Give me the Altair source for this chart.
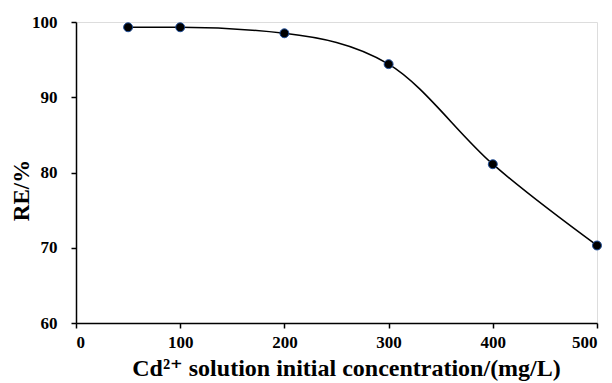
import altair as alt
import pandas as pd

conc = [50, 100, 200, 300, 400, 500]
re_pct = [99.3, 99.3, 98.5, 94.4, 81.1, 70.3]
x_ticks = [0, 100, 200, 300, 400, 500]
y_ticks = [60, 70, 80, 90, 100]

df = pd.DataFrame({"conc": conc, "re": re_pct})

FONT = "'Liberation Serif', 'Times New Roman', 'DejaVu Serif', serif"

x = alt.X("conc:Q",
          scale=alt.Scale(domain=[0, 500], nice=False, zero=False),
          axis=alt.Axis(values=x_ticks, title="Cd²⁺ solution initial concentration/(mg/L)",
                        grid=False, domainColor="black", domainWidth=1.5,
                        tickColor="black", tickSize=5, tickWidth=1.5,
                        labelFont=FONT, labelFontWeight="bold", labelFontSize=17, labelColor="black",
                        labelPadding=6,
                        titleFont=FONT, titleFontWeight="bold", titleFontSize=24, titleColor="black",
                        titleBaseline="alphabetic", titleX=270, titleY=52))
y = alt.Y("re:Q",
          scale=alt.Scale(domain=[60, 100], nice=False, zero=False),
          axis=alt.Axis(values=y_ticks, title="RE/%",
                        grid=False, domainColor="black", domainWidth=1.5,
                        tickColor="black", tickSize=5, tickWidth=1.5,
                        labelFont=FONT, labelFontWeight="bold", labelFontSize=17, labelColor="black",
                        labelPadding=14,
                        titleFont=FONT, titleFontWeight="bold", titleFontSize=23, titleColor="black",
                        titleAngle=270, titleAlign="center", titleBaseline="middle",
                        titleX=-55, titleY=168))

line = alt.Chart(df).mark_line(color="black", strokeWidth=1.6, interpolate="monotone").encode(x=x, y=y)
pts = alt.Chart(df).mark_point(filled=True, color="black", size=80, stroke="#1f4e9a",
                                strokeWidth=1, opacity=1).encode(x=x, y=y)

chart = (line + pts).properties(
    width=521, height=301,
    autosize=alt.AutoSizeParams(type="none"),
    padding={"left": 76, "top": 22, "right": 15, "bottom": 60},
).configure_view(stroke=None).configure(background="white")

chart.save("out.html", embed_options={"renderer": "svg", "actions": False})
